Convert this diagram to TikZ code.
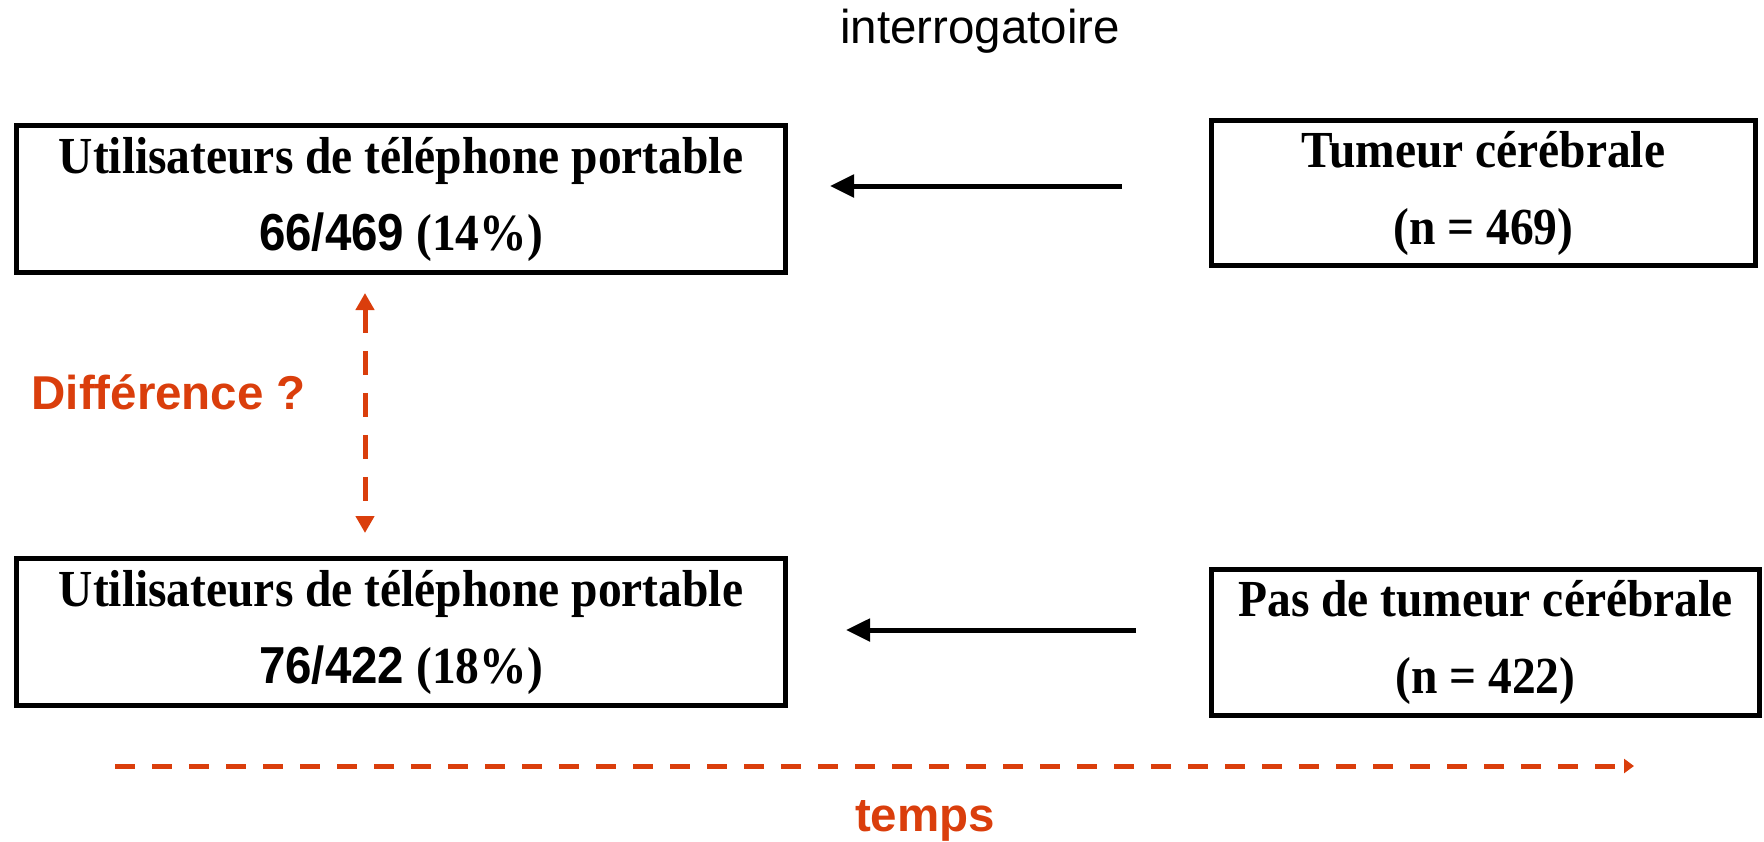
\documentclass[tikz,border=0pt]{standalone}
\usepackage{fontspec}
\setmainfont{Liberation Serif}
\newfontfamily\arial{Liberation Sans}
\newfontfamily\boxserif[FakeStretch=0.913]{Liberation Serif}
\newfontfamily\boxsans[FakeStretch=0.913]{Liberation Sans}
\usetikzlibrary{arrows.meta}
\definecolor{accent}{RGB}{218,62,12}
\tikzset{
  box/.style={draw=black, line width=5pt, rectangle, align=center, inner sep=0pt,
    font=\fontsize{52}{77}\selectfont\boxserif\bfseries},
  blk/.style={draw=black, line width=5pt, -{Triangle[length=24pt,width=22pt]}},
  diff/.style={draw=accent, line width=5pt, dash pattern=on 24pt off 18pt,
    {Triangle[length=17pt,width=18pt]}-{Triangle[length=17pt,width=18pt]}},
  timeline/.style={draw=accent, line width=5pt, dash pattern=on 20pt off 17pt,
    -{Triangle[length=10pt,width=14pt]}},
  lbl/.style={font=\fontsize{47.5}{57}\selectfont\arial}
}
\begin{document}
\begin{tikzpicture}[x=1pt,y=-1pt]
\useasboundingbox (0,0) rectangle (1764,841);
\node[box, minimum width=769pt, minimum height=147pt] (b1) at (401,199)
  {Utilisateurs de téléphone portable\\{\boxsans\bfseries 66/469} (14\%)};
\node[box, minimum width=544pt, minimum height=145pt] (b2) at (1483.5,193)
  {Tumeur cérébrale\\(n = 469)};
\node[box, minimum width=769pt, minimum height=147pt] (b3) at (401,632)
  {Utilisateurs de téléphone portable\\{\boxsans\bfseries 76/422} (18\%)};
\node[box, minimum width=548pt, minimum height=146pt] (b4) at (1485.5,642.5)
  {Pas de tumeur cérébrale\\(n = 422)};

\node[lbl, anchor=base] (interro) at (980,43) {interrogatoire};
\node[lbl, anchor=base west, text=accent, font=\fontsize{47.5}{57}\selectfont\arial\bfseries] (diffl) at (28,409) {Différence ?};
\node[lbl, anchor=base, text=accent, font=\fontsize{47.5}{57}\selectfont\arial\bfseries] (temps) at (925,831) {temps};

\coordinate (a1) at ([yshift=7pt]b2.west);
\draw[blk, shorten <=87pt, shorten >=42pt] (a1) -- (a1 -| b1.east);
\coordinate (a2) at ([yshift=12.5pt]b4.west);
\draw[blk, shorten <=73pt, shorten >=58pt] (a2) -- (a2 -| b3.east);

\draw[diff, shorten <=18pt, shorten >=23pt] ([xshift=-36pt]b1.south) -- ([xshift=-36pt]b3.north);

\coordinate (t0) at (115,766);
\coordinate (t1) at (1634,766);
\draw[timeline] (t0) -- (t1);
\end{tikzpicture}
\end{document}
